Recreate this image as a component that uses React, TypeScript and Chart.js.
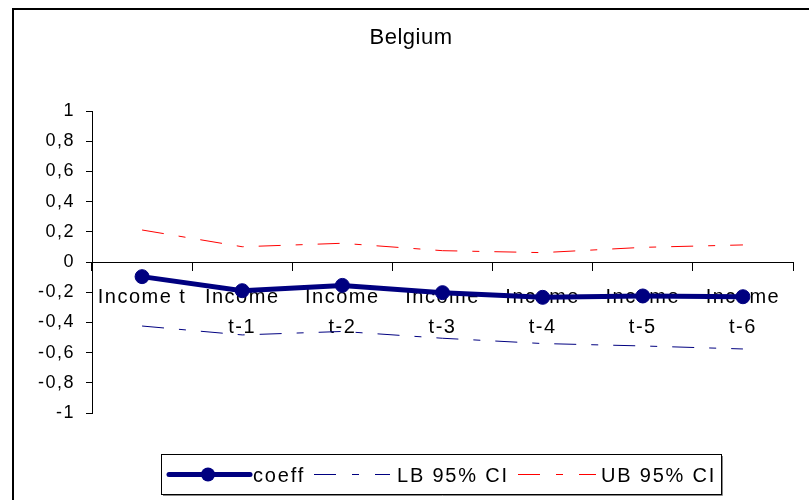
import { useEffect, useRef } from 'react';
import { Chart, registerables } from 'chart.js';

Chart.register(...registerables);

const titleText = 'Belgium';
const categories: (string | string[])[] = [
  'Income t',
  ['Income', 't-1'],
  ['Income', 't-2'],
  ['Income', 't-3'],
  ['Income', 't-4'],
  ['Income', 't-5'],
  ['Income', 't-6'],
];
const coeff = [-0.097, -0.19, -0.155, -0.203, -0.234, -0.225, -0.23];
const lowerBound = [-0.424, -0.483, -0.46, -0.505, -0.54, -0.556, -0.576];
const upperBound = [0.212, 0.101, 0.124, 0.075, 0.062, 0.097, 0.113];
const yTickValues = [-1, -0.8, -0.6, -0.4, -0.2, 0, 0.2, 0.4, 0.6, 0.8, 1];
const seriesNames = ['coeff', 'LB 95% CI', 'UB 95% CI'];

const NAVY = '#000080';
const RED = '#FF0000';
const FONT = '"Liberation Sans", Arial, sans-serif';
const DASH = [22, 15, 7, 15];

const fmt = (v: number) => {
  const r = Math.round(v * 10) / 10;
  return (r === 0 ? '0' : String(r)).replace('.', ',');
};

const setSpacing = (ctx: any, s: string) => {
  try { ctx.letterSpacing = s; } catch (e) {}
};

const decorPlugin = {
  id: 'decor',
  beforeDraw(chart: any) {
    setSpacing(chart.ctx, '1.5px');
  },
  afterDraw(chart: any) {
    const ctx = chart.ctx as CanvasRenderingContext2D;
    ctx.save();
    // outer frame
    ctx.strokeStyle = '#000';
    ctx.lineWidth = 2;
    ctx.setLineDash([]);
    ctx.beginPath();
    ctx.moveTo(13, 500);
    ctx.lineTo(13, 9);
    ctx.lineTo(809, 9);
    ctx.stroke();

    // title
    ctx.fillStyle = '#000';
    setSpacing(ctx, '0.5px');
    ctx.font = `22px ${FONT}`;
    ctx.textAlign = 'center';
    ctx.textBaseline = 'alphabetic';
    ctx.fillText(titleText, 411, 44);

    // legend box
    ctx.lineWidth = 1;
    ctx.strokeStyle = '#888';
    ctx.beginPath();
    ctx.moveTo(722.5, 456);
    ctx.lineTo(722.5, 495.5);
    ctx.lineTo(163, 495.5);
    ctx.stroke();
    ctx.strokeStyle = '#000';
    ctx.strokeRect(161.5, 454.5, 560, 40);

    const ly = 474.5;
    // coeff sample
    ctx.strokeStyle = NAVY;
    ctx.lineWidth = 5;
    ctx.lineCap = 'round';
    ctx.beginPath();
    ctx.moveTo(169, ly);
    ctx.lineTo(250, ly);
    ctx.stroke();
    ctx.fillStyle = NAVY;
    ctx.beginPath();
    ctx.arc(208, ly, 7, 0, Math.PI * 2);
    ctx.fill();

    // LB sample
    ctx.lineCap = 'butt';
    ctx.lineWidth = 1;
    ctx.setLineDash([22, 16, 7, 16]);
    ctx.strokeStyle = NAVY;
    ctx.beginPath();
    ctx.moveTo(314, ly);
    ctx.lineTo(390, ly);
    ctx.stroke();

    // UB sample
    ctx.strokeStyle = RED;
    ctx.beginPath();
    ctx.moveTo(518, ly);
    ctx.lineTo(596, ly);
    ctx.stroke();
    ctx.setLineDash([]);

    ctx.fillStyle = '#000';
    setSpacing(ctx, '1.8px');
    ctx.font = `20px ${FONT}`;
    ctx.textAlign = 'left';
    ctx.textBaseline = 'alphabetic';
    ctx.fillText(seriesNames[0], 253, 482);
    ctx.fillText(seriesNames[1], 397, 482);
    ctx.fillText(seriesNames[2], 601, 482);
    ctx.restore();
  },
};

export default function App() {
  const ref = useRef<HTMLCanvasElement>(null);

  useEffect(() => {
    if (!ref.current) return;
    const chart = new Chart(ref.current, {
      type: 'line',
      data: {
        labels: categories,
        datasets: [
          {
            label: seriesNames[0],
            data: coeff,
            borderColor: NAVY,
            backgroundColor: NAVY,
            borderWidth: 5,
            pointRadius: 7,
            pointBorderWidth: 1,
            pointBackgroundColor: NAVY,
            pointBorderColor: NAVY,
            tension: 0,
          },
          {
            label: seriesNames[1],
            data: lowerBound,
            borderColor: NAVY,
            borderWidth: 1,
            borderDash: DASH,
            pointRadius: 0,
            tension: 0,
          },
          {
            label: seriesNames[2],
            data: upperBound,
            borderColor: RED,
            borderWidth: 1,
            borderDash: DASH,
            pointRadius: 0,
            tension: 0,
          },
        ],
      },
      options: {
        animation: false,
        responsive: false,
        events: [],
        layout: { padding: { left: 0, right: 16, top: 111, bottom: 87 } },
        plugins: {
          legend: { display: false },
          title: { display: false },
          tooltip: { enabled: false },
        },
        scales: {
          x: {
            type: 'category',
            position: { y: 0 } as any,
            offset: true,
            grid: {
              display: true,
              drawOnChartArea: false,
              drawTicks: true,
              tickLength: 8,
              color: '#000',
              offset: true,
            },
            border: { display: true, color: '#000', width: 1 },
            ticks: {
              color: '#000',
              font: { family: FONT, size: 20, lineHeight: 1.5 },
              padding: 12,
              autoSkip: false,
              maxRotation: 0,
              minRotation: 0,
            },
          },
          y: {
            type: 'linear',
            min: -1,
            max: 1,
            afterBuildTicks: (scale: any) => {
              scale.ticks = yTickValues.map((v) => ({ value: v }));
            },
            afterFit: (scale: any) => {
              scale.width = 92;
            },
            grid: {
              display: true,
              drawOnChartArea: false,
              drawTicks: true,
              tickLength: 6,
              color: '#000',
            },
            border: { display: true, color: '#000', width: 1 },
            ticks: {
              color: '#000',
              font: { family: FONT, size: 18 },
              padding: 11,
              callback: (v: any) => fmt(Number(v)),
            },
          },
        },
      },
      plugins: [decorPlugin],
    });
    return () => chart.destroy();
  }, []);

  return (
    <div style={{ position: 'absolute', left: 0, top: 0, width: 809, height: 500, background: '#fff' }}>
      <canvas ref={ref} width={809} height={500} style={{ display: 'block' }} />
    </div>
  );
}
